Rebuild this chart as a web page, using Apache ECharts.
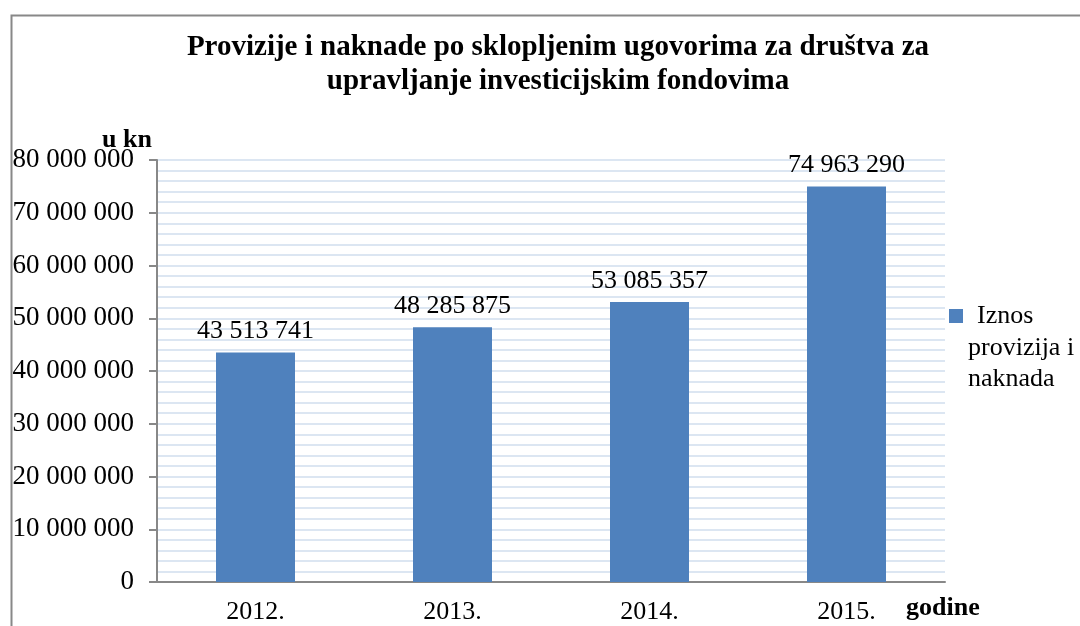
<!DOCTYPE html>
<html>
<head>
<meta charset="utf-8">
<script src="https://cdn.jsdelivr.net/npm/echarts@6/dist/echarts.min.js"></script>
<style>
  html, body { margin: 0; padding: 0; background: #fff; }
  #main { width: 1080px; height: 626px; }
</style>
</head>
<body>
<div id="main"></div>
<script>
// data
const years = ["2012.", "2013.", "2014.", "2015."];
const iznos = [43513741, 48285875, 53085357, 74963290];
const yTicks = [0, 10000000, 20000000, 30000000, 40000000, 50000000, 60000000, 70000000, 80000000];

const serif = "Liberation Serif";

function fmt(v) {
  return String(v).replace(/\B(?=(\d{3})+(?!\d))/g, " ");
}

const chartDom = document.getElementById("main");
const myChart = echarts.init(chartDom, null, { renderer: "canvas" });

const option = {
  animation: false,
  backgroundColor: "#fff",
  textStyle: { fontFamily: serif },
  title: {
    text: "Provizije i naknade po sklopljenim ugovorima za društva za\nupravljanje investicijskim fondovima",
    left: 553,
    textAlign: "center",
    top: 26,
    textStyle: {
      fontFamily: serif,
      fontWeight: "bold",
      fontSize: 29,
      lineHeight: 34,
      color: "#000"
    }
  },
  legend: { show: false },
  grid: { left: 157, right: 135, top: 160, bottom: 44 },
  xAxis: {
    type: "category",
    data: years,
    name: "godine",
    nameLocation: "end",
    nameGap: 0,
    nameTextStyle: {
      fontFamily: serif,
      fontWeight: "bold",
      fontSize: 26,
      color: "#000",
      align: "left",
      verticalAlign: "top",
      padding: [13, 0, 0, -39]
    },
    axisLine: { lineStyle: { color: "#888", width: 2 } },
    axisTick: { show: false },
    axisLabel: { fontFamily: serif, fontSize: 26, color: "#000", margin: 17 }
  },
  yAxis: {
    type: "value",
    min: 0,
    max: 80000000,
    interval: 10000000,
    name: "u kn",
    nameLocation: "end",
    nameGap: 20,
    nameMoveOverlap: false,
    nameTextStyle: {
      fontFamily: serif,
      fontWeight: "bold",
      fontSize: 26,
      color: "#000",
      align: "right",
      verticalAlign: "middle",
      padding: [0, 5, 0, 0]
    },
    axisLine: { show: true, lineStyle: { color: "#888", width: 2 } },
    axisTick: { show: true, length: 8, lineStyle: { color: "#888", width: 2 } },
    axisLabel: {
      fontFamily: serif,
      fontSize: 27,
      color: "#000",
      margin: 23,
      formatter: function (v) {
        return yTicks.indexOf(v) >= 0 ? fmt(v) : "";
      }
    },
    splitLine: { show: true, lineStyle: { color: "#dce6f2", width: 2 } },
    minorTick: { show: false, splitNumber: 5 },
    minorSplitLine: { show: true, lineStyle: { color: "#dce6f2", width: 2 } }
  },
  series: [
    {
      name: "Iznos provizija i naknada",
      type: "bar",
      data: iznos,
      barWidth: 79,
      itemStyle: { color: "#4f81bd" },
      label: {
        show: true,
        position: "top",
        distance: 8,
        fontFamily: serif,
        fontSize: 26,
        color: "#000",
        formatter: function (p) { return fmt(p.value); }
      }
    }
  ],
  graphic: [
    {
      type: "rect",
      left: 9,
      top: 13,
      shape: { width: 1100, height: 700 },
      style: { fill: null, stroke: "#888", lineWidth: 2 },
      silent: true
    },
    {
      type: "rect",
      left: 949,
      top: 309,
      shape: { width: 14, height: 14 },
      style: { fill: "#4f81bd" },
      silent: true
    },
    {
      type: "text",
      left: 977,
      top: 303,
      style: { text: "Iznos", font: "26px " + serif, fill: "#000" },
      silent: true
    },
    {
      type: "text",
      left: 968,
      top: 333,
      style: { text: "provizija i\nnaknada", font: "26px " + serif, lineHeight: 31, fill: "#000" },
      silent: true
    }
  ]
};

option && myChart.setOption(option);
</script>
</body>
</html>
